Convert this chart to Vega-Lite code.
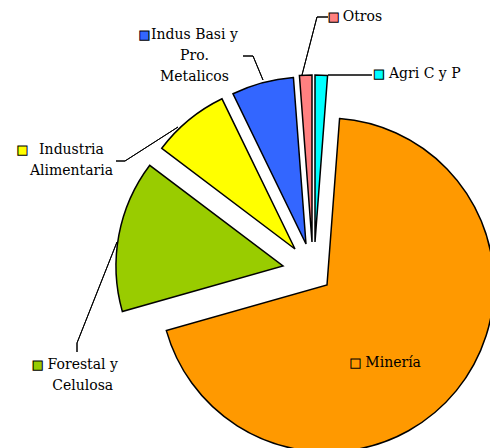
{
  "$schema": "https://vega.github.io/schema/vega-lite/v6.json",
  "width": 360,
  "height": 366,
  "autosize": {"type": "none"},
  "padding": {"left": 130, "top": 82, "right": 0, "bottom": 0},
  "background": "white",
  "config": {"view": {"stroke": null}},
  "data": {
    "values": [
      {"sector": "Agri C y P", "label": "Agri C y P", "pct": 1.2, "order": 1},
      {"sector": "Minería", "label": "Minería", "pct": 69.4, "order": 2},
      {"sector": "Forestal y Celulosa", "label": "Forestal y\nCelulosa", "pct": 14.7, "order": 3},
      {"sector": "Industria Alimentaria", "label": "Industria\nAlimentaria", "pct": 7.5, "order": 4},
      {"sector": "Indus Basi y Pro. Metalicos", "label": "Indus Basi y\nPro.\nMetalicos", "pct": 6.0, "order": 5},
      {"sector": "Otros", "label": "Otros", "pct": 1.2, "order": 6}
    ]
  },
  "transform": [
    {"stack": "pct", "groupby": [], "sort": [{"field": "order", "order": "ascending"}], "as": ["t0", "t1"]}
  ],
  "encoding": {
    "theta": {"field": "t0", "type": "quantitative", "stack": null, "scale": {"domain": [0, 100], "range": [0, 6.283185307179586]}}
  },
  "layer": [
    {"transform": [{"filter": {"field": "sector", "equal": "Agri C y P"}}],
     "mark": {"type": "arc", "outerRadius": 167, "stroke": "black", "strokeWidth": 1.5, "xOffset": 5, "yOffset": -23},
     "encoding": {"theta2": {"field": "t1"}, "color": {"field": "sector", "type": "nominal", "legend": null, "scale": {"domain": ["Agri C y P", "Minería", "Forestal y Celulosa", "Industria Alimentaria", "Indus Basi y Pro. Metalicos", "Otros"], "range": ["#00FFFF", "#FF9900", "#99CC00", "#FFFF00", "#3366FF", "#FF8080"]}}}},
    {"transform": [{"filter": {"field": "sector", "equal": "Minería"}}],
     "mark": {"type": "arc", "outerRadius": 167, "stroke": "black", "strokeWidth": 1.5, "xOffset": 17, "yOffset": 20},
     "encoding": {"theta2": {"field": "t1"}, "color": {"field": "sector", "type": "nominal", "legend": null}}},
    {"transform": [{"filter": {"field": "sector", "equal": "Forestal y Celulosa"}}],
     "mark": {"type": "arc", "outerRadius": 167, "stroke": "black", "strokeWidth": 1.5, "xOffset": -27, "yOffset": 1},
     "encoding": {"theta2": {"field": "t1"}, "color": {"field": "sector", "type": "nominal", "legend": null}}},
    {"transform": [{"filter": {"field": "sector", "equal": "Industria Alimentaria"}}],
     "mark": {"type": "arc", "outerRadius": 167, "stroke": "black", "strokeWidth": 1.5, "xOffset": -15, "yOffset": -16},
     "encoding": {"theta2": {"field": "t1"}, "color": {"field": "sector", "type": "nominal", "legend": null}}},
    {"transform": [{"filter": {"field": "sector", "equal": "Indus Basi y Pro. Metalicos"}}],
     "mark": {"type": "arc", "outerRadius": 167, "stroke": "black", "strokeWidth": 1.5, "xOffset": -4, "yOffset": -21},
     "encoding": {"theta2": {"field": "t1"}, "color": {"field": "sector", "type": "nominal", "legend": null}}},
    {"transform": [{"filter": {"field": "sector", "equal": "Otros"}}],
     "mark": {"type": "arc", "outerRadius": 167, "stroke": "black", "strokeWidth": 1.5, "xOffset": 2, "yOffset": -23},
     "encoding": {"theta2": {"field": "t1"}, "color": {"field": "sector", "type": "nominal", "legend": null}}},

    {"transform": [{"filter": {"field": "sector", "equal": "Otros"}}],
     "mark": {"type": "arc", "filled": false, "stroke": "black", "strokeWidth": 1, "innerRadius": 0, "outerRadius": 59.9, "thetaOffset": 0.3285, "theta2Offset": 0.3285, "xOffset": -8, "yOffset": -190},
     "encoding": {"theta2": {"field": "t0"}}},
    {"transform": [{"filter": {"field": "sector", "equal": "Otros"}}],
     "mark": {"type": "arc", "filled": false, "stroke": "black", "strokeWidth": 1, "innerRadius": 0, "outerRadius": 11, "thetaOffset": 1.6462, "theta2Offset": 1.6462, "xOffset": 7, "yOffset": -248},
     "encoding": {"theta2": {"field": "t0"}}},
    {"transform": [{"filter": {"field": "sector", "equal": "Agri C y P"}}],
     "mark": {"type": "arc", "filled": false, "stroke": "black", "strokeWidth": 1, "innerRadius": 0, "outerRadius": 44, "thetaOffset": 1.5708, "theta2Offset": 1.5708, "xOffset": 18, "yOffset": -190},
     "encoding": {"theta2": {"field": "t0"}}},
    {"transform": [{"filter": {"field": "sector", "equal": "Indus Basi y Pro. Metalicos"}}],
     "mark": {"type": "arc", "filled": false, "stroke": "black", "strokeWidth": 1, "innerRadius": 0, "outerRadius": 26, "thetaOffset": 0.0576, "theta2Offset": 0.0576, "xOffset": -47, "yOffset": -185},
     "encoding": {"theta2": {"field": "t0"}}},
    {"transform": [{"filter": {"field": "sector", "equal": "Indus Basi y Pro. Metalicos"}}],
     "mark": {"type": "arc", "filled": false, "stroke": "black", "strokeWidth": 1, "innerRadius": 0, "outerRadius": 10, "thetaOffset": -1.1184, "theta2Offset": -1.1184, "xOffset": -57, "yOffset": -209},
     "encoding": {"theta2": {"field": "t0"}}},
    {"transform": [{"filter": {"field": "sector", "equal": "Industria Alimentaria"}}],
     "mark": {"type": "arc", "filled": false, "stroke": "black", "strokeWidth": 1, "innerRadius": 0, "outerRadius": 63, "thetaOffset": -1.2175, "theta2Offset": -1.2175, "xOffset": -132, "yOffset": -138},
     "encoding": {"theta2": {"field": "t0"}}},
    {"transform": [{"filter": {"field": "sector", "equal": "Industria Alimentaria"}}],
     "mark": {"type": "arc", "filled": false, "stroke": "black", "strokeWidth": 1, "innerRadius": 0, "outerRadius": 9, "thetaOffset": -0.6472, "theta2Offset": -0.6472, "xOffset": -185, "yOffset": -104},
     "encoding": {"theta2": {"field": "t0"}}},
    {"transform": [{"filter": {"field": "sector", "equal": "Forestal y Celulosa"}}],
     "mark": {"type": "arc", "filled": false, "stroke": "black", "strokeWidth": 1, "innerRadius": 0, "outerRadius": 108.6, "thetaOffset": -0.9172, "theta2Offset": -0.9172, "xOffset": -193, "yOffset": -23},
     "encoding": {"theta2": {"field": "t0"}}},
    {"transform": [{"filter": {"field": "sector", "equal": "Forestal y Celulosa"}}],
     "mark": {"type": "arc", "filled": false, "stroke": "black", "strokeWidth": 1, "innerRadius": 0, "outerRadius": 9, "thetaOffset": -1.2943, "theta2Offset": -1.2943, "xOffset": -233, "yOffset": 78},
     "encoding": {"theta2": {"field": "t0"}}},

    {"transform": [{"filter": {"field": "sector", "equal": "Agri C y P"}}],
     "mark": {"type": "text", "radius": 230, "dx": 79, "dy": 39, "align": "left", "baseline": "middle", "font": "DejaVu Serif", "fontSize": 14, "lineBreak": "\n", "lineHeight": 21, "fill": "black"},
     "encoding": {"text": {"field": "label"}}},
    {"transform": [{"filter": {"field": "sector", "equal": "Minería"}}],
     "mark": {"type": "text", "radius": 230, "dx": 38, "dy": 327, "align": "left", "baseline": "middle", "font": "DejaVu Serif", "fontSize": 14, "lineBreak": "\n", "lineHeight": 21, "fill": "black"},
     "encoding": {"text": {"field": "label"}}},
    {"transform": [{"filter": {"field": "sector", "equal": "Forestal y Celulosa"}}],
     "mark": {"type": "text", "radius": 230, "dx": -6, "dy": 37, "align": "center", "baseline": "middle", "font": "DejaVu Serif", "fontSize": 14, "lineBreak": "\n", "lineHeight": 21, "fill": "black"},
     "encoding": {"text": {"field": "label"}}},
    {"transform": [{"filter": {"field": "sector", "equal": "Industria Alimentaria"}}],
     "mark": {"type": "text", "radius": 230, "dx": -55, "dy": 24, "align": "center", "baseline": "middle", "font": "DejaVu Serif", "fontSize": 14, "lineBreak": "\n", "lineHeight": 21, "fill": "black"},
     "encoding": {"text": {"field": "label"}}},
    {"transform": [{"filter": {"field": "sector", "equal": "Indus Basi y Pro. Metalicos"}}],
     "mark": {"type": "text", "radius": 230, "dx": -15, "dy": -23, "align": "center", "baseline": "middle", "font": "DejaVu Serif", "fontSize": 14, "lineBreak": "\n", "lineHeight": 21, "fill": "black"},
     "encoding": {"text": {"field": "label"}}},
    {"transform": [{"filter": {"field": "sector", "equal": "Otros"}}],
     "mark": {"type": "text", "radius": 230, "dx": 50, "dy": -19, "align": "left", "baseline": "middle", "font": "DejaVu Serif", "fontSize": 14, "lineBreak": "\n", "lineHeight": 21, "fill": "black"},
     "encoding": {"text": {"field": "label"}}},

    {"transform": [{"filter": {"field": "sector", "equal": "Agri C y P"}}],
     "mark": {"type": "text", "text": "■", "radius": 230, "dx": 69, "dy": 39, "align": "center", "baseline": "middle", "font": "DejaVu Sans", "fontSize": 12, "stroke": "black", "strokeWidth": 1},
     "encoding": {"color": {"field": "sector", "type": "nominal", "legend": null}}},
    {"transform": [{"filter": {"field": "sector", "equal": "Minería"}}],
     "mark": {"type": "text", "text": "■", "radius": 230, "dx": 28, "dy": 327, "align": "center", "baseline": "middle", "font": "DejaVu Sans", "fontSize": 12, "stroke": "black", "strokeWidth": 1},
     "encoding": {"color": {"field": "sector", "type": "nominal", "legend": null}}},
    {"transform": [{"filter": {"field": "sector", "equal": "Forestal y Celulosa"}}],
     "mark": {"type": "text", "text": "■", "radius": 230, "dx": -51, "dy": 37, "align": "center", "baseline": "middle", "font": "DejaVu Sans", "fontSize": 12, "stroke": "black", "strokeWidth": 1},
     "encoding": {"color": {"field": "sector", "type": "nominal", "legend": null}}},
    {"transform": [{"filter": {"field": "sector", "equal": "Industria Alimentaria"}}],
     "mark": {"type": "text", "text": "■", "radius": 230, "dx": -104, "dy": 24, "align": "center", "baseline": "middle", "font": "DejaVu Sans", "fontSize": 12, "stroke": "black", "strokeWidth": 1},
     "encoding": {"color": {"field": "sector", "type": "nominal", "legend": null}}},
    {"transform": [{"filter": {"field": "sector", "equal": "Indus Basi y Pro. Metalicos"}}],
     "mark": {"type": "text", "text": "■", "radius": 230, "dx": -65, "dy": -23, "align": "center", "baseline": "middle", "font": "DejaVu Sans", "fontSize": 12, "stroke": "black", "strokeWidth": 1},
     "encoding": {"color": {"field": "sector", "type": "nominal", "legend": null}}},
    {"transform": [{"filter": {"field": "sector", "equal": "Otros"}}],
     "mark": {"type": "text", "text": "■", "radius": 230, "dx": 41, "dy": -19, "align": "center", "baseline": "middle", "font": "DejaVu Sans", "fontSize": 12, "stroke": "black", "strokeWidth": 1},
     "encoding": {"color": {"field": "sector", "type": "nominal", "legend": null}}}
  ]
}
